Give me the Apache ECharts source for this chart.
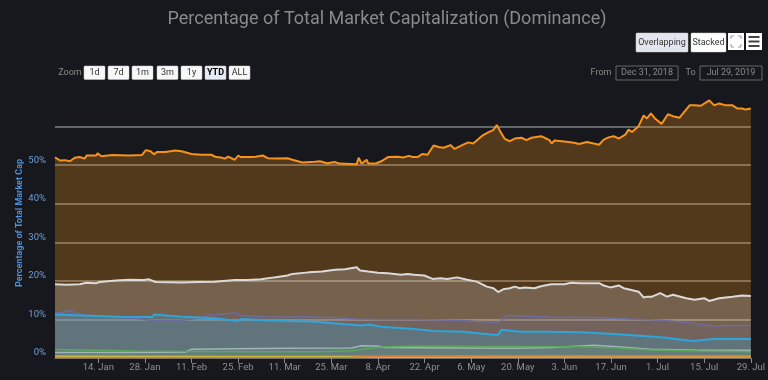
<!DOCTYPE html>
<html><head><meta charset="utf-8">
<script src="https://cdn.jsdelivr.net/npm/echarts@6/dist/echarts.min.js"></script>
<style>html,body{margin:0;padding:0;background:#17181d}#c{width:768px;height:380px}</style>
</head><body><div id="c"></div>
<script>
// x = day of year 2019 (1 = Jan 1)
const xTickDays = [14,28,42,56,70,84,98,112,126,140,154,168,182,196,210];
const xTickLabels = ['14. Jan','28. Jan','11. Feb','25. Feb','11. Mar','25. Mar','8. Apr','22. Apr','6. May','20. May','3. Jun','17. Jun','1. Jul','15. Jul','29. Jul'];
const yTickLabels = ['0%','10%','20%','30%','40%','50%'];

const bitcoin = [[1,52.0],[2.5,51.2],[4,51.3],[5.5,51.0],[6.9,51.9],[8.4,52.1],[9.9,51.7],[10.5,52.5],[13.4,52.5],[13.8,53.1],[14.9,52.3],[18.2,52.6],[23.3,52.5],[27.1,52.6],[28.3,53.9],[29.7,53.6],[30.7,52.8],[31.6,53.4],[34.2,53.4],[37.1,53.8],[39,53.6],[39.6,53.1],[42,52.9],[45,52.7],[47.9,52.7],[49.4,52.1],[50.9,52.0],[52,51.7],[53,52.2],[55,51.4],[56,52.5],[56.8,52.1],[59.8,52.1],[61.3,52.2],[63.4,52.5],[64.9,51.8],[67.8,51.7],[70.8,51.8],[72.3,51.4],[75.3,50.7],[79.1,50.9],[80.6,51.0],[82.7,50.5],[85,50.8],[86.5,50.4],[91.6,50.2],[92.2,51.9],[93.1,50.4],[93.6,50.7],[94.6,51.4],[95.1,50.4],[97.5,50.5],[99,51.0],[101,52.1],[104,52.2],[105.5,52.0],[107.3,52.4],[108.4,52.1],[109.9,52.1],[111.4,52.9],[112.9,52.7],[114.7,55.1],[116.2,54.7],[117.7,54.5],[119.8,55.2],[121,54.2],[123.3,55.2],[125.1,55.9],[126.6,55.6],[129.6,57.8],[131.1,58.5],[131.7,58.0],[132.6,59.1],[133.7,60.4],[134.7,58.8],[136.1,56.8],[137.6,56.2],[139.1,56.9],[141.1,57.1],[142.6,56.5],[144.1,57.1],[147,57.5],[148.5,56.9],[149.5,56.5],[150.2,55.6],[151,56.4],[154,56.1],[156.9,55.8],[158.4,55.5],[160.8,56.0],[164.4,55.3],[165.8,56.6],[167.3,57.2],[168.8,57.5],[170.3,56.9],[172.3,57.9],[173.3,59.2],[174.3,58.6],[176.3,60.1],[177.8,62.9],[178.8,62.1],[180,63.4],[181.2,62.1],[183.2,60.7],[185.1,63.2],[186.6,62.7],[188.6,62.3],[191.6,65.5],[193.1,65.5],[195,65.4],[197.5,66.8],[199,65.5],[200.5,66.0],[202.5,65.5],[204.5,65.5],[205.9,64.7],[207.4,64.7],[208.4,64.4],[210,64.7]];

const others = [[1,19.1],[4.5,19.0],[8.4,19.1],[10.4,19.5],[13.4,19.4],[14.4,19.7],[19.3,20.1],[23.3,20.3],[27.7,20.2],[29.2,20.4],[31.2,19.7],[39,19.6],[44.1,19.7],[49,19.8],[55,20.2],[58.9,20.2],[62.9,20.4],[66.8,20.9],[70.8,21.4],[72.3,21.8],[77.2,22.2],[81.2,22.4],[85.1,22.9],[88.1,23.0],[91.6,23.5],[92.6,22.7],[95.1,22.4],[98,22.1],[101,22.0],[104.9,21.6],[106.9,21.8],[108.9,21.6],[111.9,21.4],[114.4,20.5],[116.8,20.7],[118.8,20.5],[121.8,20.9],[124.8,20.3],[127.7,19.8],[130.7,18.5],[132.7,18.1],[134.1,17.1],[135.6,17.8],[137.6,18.1],[139.1,18.5],[140.6,18.1],[142.1,18.3],[145,18.1],[147,18.6],[150,19.1],[154,19.1],[156,19.5],[158.9,19.4],[161.9,19.4],[164.4,19.4],[165.8,18.8],[167.8,18.3],[170.3,18.8],[171.8,18.1],[173.8,17.7],[176.3,17.2],[177.8,15.7],[178.8,15.9],[180.3,15.9],[182.8,16.8],[184.8,15.9],[186.6,16.4],[190.6,15.5],[193.1,15.1],[196,15.5],[197.5,14.8],[200.5,15.5],[204.5,15.9],[207.4,16.2],[210,16.1]];

const ethereum = [[1,11.6],[3.5,11.9],[5.5,12.3],[7.4,11.6],[9.4,11.2],[14.4,10.8],[19.3,10.6],[27.2,10.1],[29.2,9.8],[39.1,9.8],[44.1,10.3],[48,11.2],[53,11.5],[55,11.9],[56.9,11.0],[63.9,10.7],[70.8,10.6],[75.3,10.7],[84.2,10.5],[91.1,10.1],[98,10.0],[108.9,10.0],[123.7,9.7],[132.7,9.2],[134.7,9.4],[136.6,11.1],[140.6,10.9],[149,10.6],[163.9,10.5],[173.8,10.1],[183.7,9.8],[192.6,9.0],[198.5,8.3],[203.5,8.4],[210,8.4]];

const xrp = [[1,11.3],[9.4,11.0],[19.3,10.7],[29.2,10.6],[30.2,10.6],[30.7,11.3],[39.1,10.7],[49,10.3],[55.9,9.6],[56.9,10.1],[63.9,9.8],[70.8,9.6],[79.2,9.4],[89.1,8.7],[93.1,8.4],[95.1,8.7],[99,8.1],[108.9,7.5],[114.8,7.0],[123.7,6.8],[132.7,6.0],[134.1,6.0],[135.1,7.3],[140.6,6.8],[149,6.8],[158.9,6.7],[168.8,6.2],[176.7,5.8],[183.7,5.3],[192.6,4.4],[198.5,4.9],[210,4.9]];

const litecoin = [[1,1.4],[20,1.4],[40,1.5],[42,2.3],[55,2.4],[70,2.5],[90,2.6],[93,3.2],[98,3.1],[100,2.7],[120,2.6],[140,2.5],[150,2.7],[163,3.3],[170,2.9],[180,2.3],[195,2.0],[210,2.0]];

const bitcoinCash = [[1,2.2],[10,2.1],[25,1.8],[40,1.7],[60,1.6],[80,1.6],[90,1.9],[100,2.9],[110,3.1],[130,3.0],[140,3.0],[160,2.9],[170,2.6],[180,2.1],[195,1.8],[210,1.6]];

const smallCoinA = [[1,0.4],[50,0.35],[100,0.35],[150,0.4],[210,0.4]];
const smallCoinB = [[1,0.15],[90,0.2],[100,0.45],[150,0.5],[210,0.5]];

function areaSeries(name, data, color, width, alpha) {
  return {
    type: 'line', name: name, data: data, symbol: 'none', silent: true,
    lineStyle: { color: color, width: width }, itemStyle: { color: color },
    areaStyle: { color: color, opacity: alpha },
    emphasis: { disabled: true }, animation: false
  };
}

const FONT = "'Liberation Sans Narrow', 'Roboto', sans-serif";

function btn(x, y, w, h, label, fill, bold) {
  return [
    { type: 'rect', shape: { x: x, y: y, width: w, height: h, r: 1 }, style: { fill: fill, stroke: '#cccccc', lineWidth: 0.5 } },
    { type: 'text', x: x + w / 2, y: y + h / 2, style: { text: label, fill: bold ? '#000' : '#333', font: (bold ? 'bold ' : '') + '9px ' + FONT, textAlign: 'center', textVerticalAlign: 'middle' } }
  ];
}

const zoomBtns = ['1d','7d','1m','3m','1y','YTD','ALL'];
const zoomX = [84,108,132,157,181,205,229];
let graphics = [
  { type: 'text', x: 387, y: 19, style: { text: 'Percentage of Total Market Capitalization (Dominance)', fill: '#8a8a8a', font: '18px ' + FONT, textAlign: 'center', textVerticalAlign: 'middle' } },
  { type: 'text', x: 20, y: 223, rotation: Math.PI / 2, style: { text: 'Percentage of Total Market Cap', fill: '#4d8fd8', font: 'bold 9px ' + FONT, textAlign: 'center', textVerticalAlign: 'middle' } },
  { type: 'text', x: 70, y: 72.5, style: { text: 'Zoom', fill: '#8a8a8a', font: '9px ' + FONT, textAlign: 'center', textVerticalAlign: 'middle' } },
  { type: 'text', x: 601, y: 72.5, style: { text: 'From', fill: '#8a8a8a', font: '9px ' + FONT, textAlign: 'center', textVerticalAlign: 'middle' } },
  { type: 'rect', shape: { x: 616, y: 66, width: 62, height: 14 }, style: { fill: 'none', stroke: '#666', lineWidth: 1 } },
  { type: 'text', x: 647, y: 73, style: { text: 'Dec 31, 2018', fill: '#8a8a8a', font: '9px ' + FONT, textAlign: 'center', textVerticalAlign: 'middle' } },
  { type: 'text', x: 690.5, y: 72.5, style: { text: 'To', fill: '#8a8a8a', font: '9px ' + FONT, textAlign: 'center', textVerticalAlign: 'middle' } },
  { type: 'rect', shape: { x: 700, y: 66, width: 62, height: 14 }, style: { fill: 'none', stroke: '#666', lineWidth: 1 } },
  { type: 'text', x: 731, y: 73, style: { text: 'Jul 29, 2019', fill: '#8a8a8a', font: '9px ' + FONT, textAlign: 'center', textVerticalAlign: 'middle' } }
];
zoomBtns.forEach((b, i) => { graphics = graphics.concat(btn(zoomX[i], 66, 21, 13.5, b, b === 'YTD' ? '#e6ebf5' : '#f7f7f7', b === 'YTD')); });
graphics = graphics.concat(btn(636, 33, 52, 19, 'Overlapping', '#e2e6ee', false));
graphics = graphics.concat(btn(691, 33, 35, 19, 'Stacked', '#ffffff', false));
// fullscreen icon
graphics.push({ type: 'rect', shape: { x: 728, y: 33, width: 16, height: 17 }, style: { fill: '#ffffff' } });
[[731,36,1,1],[741,36,-1,1],[731,47,1,-1],[741,47,-1,-1]].forEach(p => {
  graphics.push({ type: 'polyline', shape: { points: [[p[0], p[1] + 3 * p[3]], [p[0], p[1]], [p[0] + 3 * p[2], p[1]]] }, style: { stroke: '#999', lineWidth: 1, fill: 'none' } });
});
// menu icon
graphics.push({ type: 'rect', shape: { x: 746, y: 33, width: 16, height: 17 }, style: { fill: '#ffffff' } });
[37, 41.5, 46].forEach(y => graphics.push({ type: 'line', shape: { x1: 748.5, y1: y, x2: 759.5, y2: y }, style: { stroke: '#444', lineWidth: 2 } }));

const chart = echarts.init(document.getElementById('c'), null, { renderer: 'canvas' });
chart.setOption({
  backgroundColor: '#17181d',
  animation: false,
  grid: { left: 55, right: 7, top: 88, bottom: 22, containLabel: false },
  xAxis: {
    type: 'value', min: 1, max: 210,
    axisLine: { show: true, lineStyle: { color: '#707073', width: 1 } },
    axisTick: { show: true, length: 5, lineStyle: { color: '#8a8a8a' }, customValues: xTickDays },
    axisLabel: { color: '#8f8f8f', fontSize: 9.5, fontFamily: FONT, margin: 5, customValues: xTickDays,
      formatter: v => { const i = xTickDays.indexOf(v); return i >= 0 ? xTickLabels[i] : ''; } },
    splitLine: { show: false }
  },
  yAxis: {
    type: 'value', min: 0, max: 70, interval: 10,
    axisLine: { show: false }, axisTick: { show: false },
    axisLabel: { color: '#6f9fd8', fontSize: 9.5, fontFamily: FONT, margin: 9, verticalAlign: 'bottom',
      formatter: v => { const i = Math.round(v / 10); return i < yTickLabels.length ? yTickLabels[i] : ''; } },
    splitLine: { show: true, showMaxLine: false, lineStyle: { color: '#7d8284', width: 1.5 } }
  },
  series: [
    areaSeries('Bitcoin', bitcoin, '#f7931a', 2, 0.27),
    areaSeries('Others', others, '#dadada', 2, 0.25),
    areaSeries('Ethereum', ethereum, '#6c6c9e', 1.5, 0.2),
    areaSeries('XRP', xrp, '#2ca6dc', 2, 0.25),
    areaSeries('Litecoin', litecoin, '#9fb4b4', 1.5, 0.1),
    areaSeries('Bitcoin Cash', bitcoinCash, '#5aa85a', 1.5, 0.1),
    areaSeries('Coin A', smallCoinA, '#c8c83c', 2, 0.3),
    areaSeries('Coin B', smallCoinB, '#e07b28', 1.5, 0.3)
  ],
  graphic: graphics
});
</script></body></html>
